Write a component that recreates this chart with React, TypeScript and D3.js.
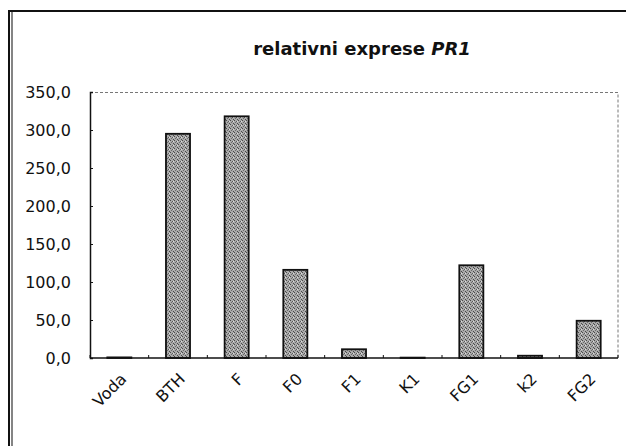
import { useEffect, useRef } from 'react';
import * as d3 from 'd3';

const categories = ['Voda', 'BTH', 'F', 'F0', 'F1', 'K1', 'FG1', 'k2', 'FG2'];
const values = [0.8, 295, 318, 116, 11.5, 0.5, 122, 3, 49];
const yTicks = [0, 50, 100, 150, 200, 250, 300, 350];

const W = 626;
const H = 446;

export default function App() {
  const svgRef = useRef<SVGSVGElement>(null);

  useEffect(() => {
    if (!svgRef.current) return;
    const svg = d3.select(svgRef.current);
    svg.selectAll('*').remove();

    const margin = { top: 92, right: 8, bottom: 88, left: 90 };
    const width = W - margin.left - margin.right;
    const height = H - margin.top - margin.bottom;
    const font = '"DejaVu Sans", sans-serif';

    // speckled gray fill like the scanned bars
    const defs = svg.append('defs');
    const pat = defs.append('pattern')
      .attr('id', 'speckle')
      .attr('patternUnits', 'userSpaceOnUse')
      .attr('width', 4).attr('height', 4);
    pat.append('rect').attr('width', 4).attr('height', 4).attr('fill', '#aaa');
    pat.append('rect').attr('x', 0).attr('y', 0).attr('width', 1).attr('height', 1).attr('fill', '#4a4a4a');
    pat.append('rect').attr('x', 2).attr('y', 1).attr('width', 1).attr('height', 1).attr('fill', '#5a5a5a');
    pat.append('rect').attr('x', 1).attr('y', 2).attr('width', 1).attr('height', 1).attr('fill', '#6a6a6a');
    pat.append('rect').attr('x', 3).attr('y', 3).attr('width', 1).attr('height', 1).attr('fill', '#4a4a4a');
    pat.append('rect').attr('x', 3).attr('y', 1).attr('width', 1).attr('height', 1).attr('fill', '#ddd');

    svg.append('rect').attr('width', W).attr('height', H).attr('fill', 'white');

    // outer frame (left + top edges of the scanned chart box)
    svg.append('line').attr('x1', 9).attr('x2', W).attr('y1', 11).attr('y2', 11)
      .attr('stroke', '#111').attr('stroke-width', 2);
    svg.append('line').attr('x1', 9).attr('x2', 9).attr('y1', 10).attr('y2', H)
      .attr('stroke', '#111').attr('stroke-width', 2);
    svg.append('line').attr('x1', 12).attr('x2', 12).attr('y1', 12).attr('y2', H)
      .attr('stroke', '#333').attr('stroke-width', 1.2);

    // Title
    const title = svg.append('text')
      .attr('x', 362)
      .attr('y', 55)
      .attr('text-anchor', 'middle')
      .attr('font-family', font)
      .attr('font-size', '18px')
      .attr('font-weight', 'bold')
      .attr('fill', '#111');
    title.append('tspan').text('relativni exprese ');
    title.append('tspan').attr('font-style', 'italic').text('PR1');

    const g = svg.append('g').attr('transform', `translate(${margin.left},${margin.top})`);

    const x = d3.scaleBand().domain(categories).range([0, width]).paddingInner(0.59).paddingOuter(0.295);
    const y = d3.scaleLinear().domain([0, 350]).range([height, 0]);

    // dotted top/right border of the plot area
    g.append('path')
      .attr('d', `M0,0.5H${width}V${height}`)
      .attr('fill', 'none')
      .attr('stroke', '#777')
      .attr('stroke-width', 1)
      .attr('stroke-dasharray', '3,2');

    // Bars
    g.selectAll('.bar')
      .data(categories)
      .join('rect')
      .attr('class', 'bar')
      .attr('x', d => x(d)!)
      .attr('y', (_d, i) => y(values[i]))
      .attr('width', x.bandwidth())
      .attr('height', (_d, i) => height - y(values[i]))
      .attr('fill', 'url(#speckle)')
      .attr('stroke', '#111')
      .attr('stroke-width', 1.8);

    // Y axis, inside ticks
    g.append('g')
      .call(d3.axisRight(y).tickValues(yTicks).tickSize(3).tickFormat(() => ''))
      .call(a => a.select('.domain').attr('stroke', '#111').attr('stroke-width', 1.5))
      .call(a => a.selectAll('.tick line').attr('stroke', '#111'));

    g.append('g')
      .selectAll('text')
      .data(yTicks)
      .join('text')
      .attr('x', -19)
      .attr('y', d => y(d))
      .attr('dy', '0.36em')
      .attr('text-anchor', 'end')
      .attr('font-family', font)
      .attr('font-size', '16px')
      .attr('fill', '#111')
      .text(d => d3.format('.1f')(d).replace('.', ','));

    // X axis, inside ticks at band boundaries
    const step = x.step();
    const bounds = d3.range(categories.length + 1).map(i => i * step);
    g.append('line')
      .attr('x1', 0).attr('x2', width)
      .attr('y1', height).attr('y2', height)
      .attr('stroke', '#111').attr('stroke-width', 1.5);
    g.selectAll('.xtick')
      .data(bounds)
      .join('line')
      .attr('class', 'xtick')
      .attr('x1', d => d).attr('x2', d => d)
      .attr('y1', height).attr('y2', height - 3)
      .attr('stroke', '#111');

    g.selectAll('.xlabel')
      .data(categories)
      .join('text')
      .attr('class', 'xlabel')
      .attr('transform', d => `translate(${x(d)! + x.bandwidth() / 2 + 8},${height + 22}) rotate(-45)`)
      .attr('text-anchor', 'end')
      .attr('font-family', font)
      .attr('font-size', '16px')
      .attr('fill', '#111')
      .text(d => d);
  }, []);

  return (
    <div style={{ position: 'fixed', left: 0, top: 0, width: W, height: H, background: 'white' }}>
      <svg ref={svgRef} width={W} height={H} />
    </div>
  );
}
